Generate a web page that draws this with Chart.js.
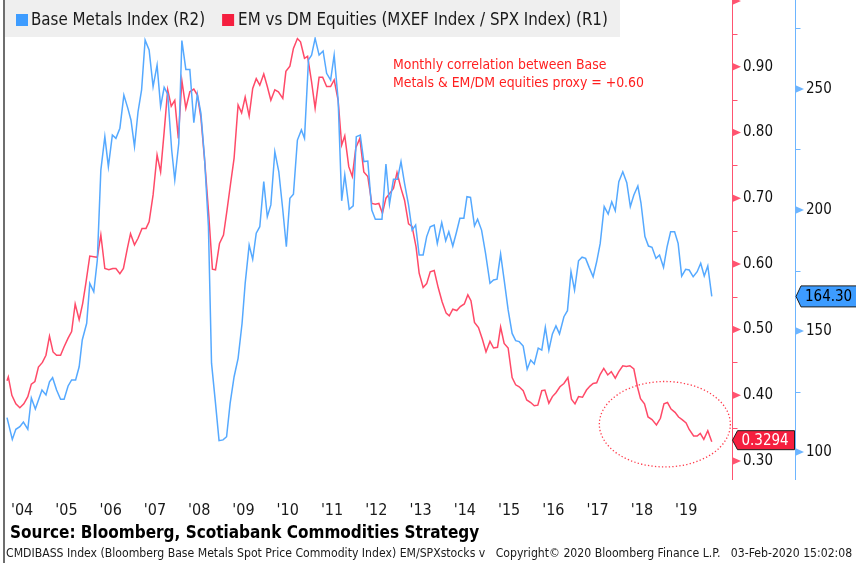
<!DOCTYPE html>
<html><head><meta charset="utf-8">
<script src="https://cdn.jsdelivr.net/npm/chart.js@4.4.1/dist/chart.umd.min.js"></script>
<style>html,body{margin:0;padding:0;background:#fff;overflow:hidden}canvas{display:block}</style>
</head><body>
<canvas id="c" width="856" height="563"></canvas>
<script>
// ---- Data (decimal years / values) ----
const bmT = [2004.00,2004.12,2004.20,2004.29,2004.37,2004.47,2004.55,2004.64,2004.79,2004.88,2004.96,2005.03,2005.12,2005.21,2005.29,2005.38,2005.46,2005.55,2005.63,2005.70,2005.80,2005.87,2005.96,2006.04,2006.12,2006.21,2006.29,2006.38,2006.46,2006.55,2006.64,2006.73,2006.80,2006.88,2006.96,2007.04,2007.12,2007.21,2007.30,2007.39,2007.47,2007.55,2007.63,2007.72,2007.79,2007.88,2007.95,2008.04,2008.13,2008.22,2008.30,2008.38,2008.46,2008.55,2008.62,2008.71,2008.79,2008.88,2008.96,2009.04,2009.13,2009.22,2009.31,2009.38,2009.47,2009.55,2009.63,2009.71,2009.80,2009.88,2009.96,2010.05,2010.14,2010.23,2010.31,2010.39,2010.47,2010.56,2010.65,2010.72,2010.81,2010.88,2010.96,2011.05,2011.14,2011.22,2011.31,2011.39,2011.48,2011.56,2011.63,2011.73,2011.82,2011.89,2011.98,2012.06,2012.15,2012.24,2012.32,2012.47,2012.56,2012.64,2012.73,2012.82,2012.90,2012.98,2013.07,2013.15,2013.23,2013.31,2013.40,2013.48,2013.56,2013.65,2013.72,2013.82,2013.91,2013.98,2014.07,2014.15,2014.23,2014.32,2014.39,2014.47,2014.56,2014.63,2014.72,2014.81,2014.91,2014.99,2015.07,2015.15,2015.23,2015.32,2015.41,2015.49,2015.57,2015.66,2015.75,2015.83,2015.91,2016.00,2016.08,2016.16,2016.24,2016.32,2016.40,2016.48,2016.58,2016.66,2016.74,2016.82,2016.91,2016.99,2017.07,2017.15,2017.24,2017.32,2017.40,2017.49,2017.58,2017.66,2017.74,2017.82,2017.91,2018.00,2018.08,2018.16,2018.25,2018.32,2018.41,2018.49,2018.57,2018.66,2018.74,2018.83,2018.91,2018.99,2019.08,2019.16,2019.24,2019.33,2019.41,2019.50,2019.59,2019.67,2019.75,2019.83,2019.92];
const bmV = [114.2,105.2,109.4,110.5,112.4,109.4,122.3,117.8,125.6,123.6,129.0,130.7,125.6,121.8,121.8,127.3,129.8,129.8,135.2,146.3,153.2,169.7,166.2,179.3,216.5,230.3,217.9,231.0,229.6,233.8,247.5,242.0,237.2,226.2,240.6,249.6,270.2,266.1,251.0,259.9,242.7,250.7,247.9,224.8,212.4,227.6,270.0,258.1,258.1,236.1,247.9,240.0,222.0,193.1,136.7,120.1,104.7,105.0,106.3,120.1,131.1,138.7,153.2,169.7,185.5,179.6,190.4,193.1,211.7,197.2,202.1,224.1,215.8,200.0,184.8,204.8,206.5,228.9,233.1,229.6,262.0,264.0,270.9,264.0,265.7,256.5,253.7,264.0,245.5,203.8,214.5,200.3,201.7,230.3,231.0,220.0,220.2,200.0,196.2,196.2,219.0,202.5,212.7,212.7,220.0,211.0,202.1,191.7,193.8,181.4,181.4,189.0,193.1,193.8,186.2,194.8,187.3,191.0,185.1,190.6,196.6,196.6,205.5,205.2,193.4,196.2,191.7,182.1,169.7,171.1,171.4,181.8,171.1,158.7,149.0,146.0,145.6,143.8,134.2,138.0,136.4,142.9,142.1,151.5,142.1,148.8,152.1,148.8,155.9,158.4,174.5,166.9,179.0,180.5,180.0,176.3,172.4,178.6,186.2,201.4,198.3,203.4,199.7,211.7,215.8,211.3,201.4,206.2,209.9,203.0,189.0,185.1,184.6,180.0,181.4,176.3,184.8,191.0,191.0,186.2,172.7,175.5,175.2,172.4,174.5,178.0,172.7,176.9,164.3];

const emT = [2004.00,2004.03,2004.11,2004.20,2004.29,2004.38,2004.47,2004.55,2004.63,2004.71,2004.80,2004.88,2004.96,2005.04,2005.12,2005.21,2005.29,2005.38,2005.46,2005.54,2005.63,2005.71,2005.78,2005.87,2005.96,2006.04,2006.12,2006.21,2006.30,2006.39,2006.46,2006.55,2006.63,2006.72,2006.79,2006.88,2006.96,2007.05,2007.14,2007.21,2007.30,2007.39,2007.47,2007.55,2007.63,2007.71,2007.79,2007.87,2007.95,2008.04,2008.13,2008.22,2008.30,2008.38,2008.47,2008.56,2008.64,2008.71,2008.80,2008.89,2008.97,2009.05,2009.13,2009.22,2009.30,2009.38,2009.47,2009.55,2009.63,2009.71,2009.80,2009.88,2009.96,2010.05,2010.13,2010.23,2010.30,2010.39,2010.47,2010.56,2010.63,2010.72,2010.79,2010.88,2010.96,2011.05,2011.13,2011.22,2011.31,2011.39,2011.48,2011.56,2011.63,2011.72,2011.80,2011.88,2011.97,2012.06,2012.15,2012.24,2012.32,2012.40,2012.48,2012.56,2012.64,2012.73,2012.81,2012.90,2012.98,2013.07,2013.15,2013.24,2013.31,2013.40,2013.48,2013.56,2013.65,2013.74,2013.83,2013.92,2013.99,2014.07,2014.16,2014.24,2014.33,2014.41,2014.48,2014.56,2014.65,2014.74,2014.82,2014.91,2014.99,2015.08,2015.15,2015.23,2015.32,2015.41,2015.49,2015.57,2015.66,2015.74,2015.83,2015.91,2015.99,2016.08,2016.15,2016.24,2016.32,2016.40,2016.49,2016.58,2016.67,2016.75,2016.83,2016.91,2017.00,2017.09,2017.17,2017.24,2017.32,2017.40,2017.48,2017.57,2017.65,2017.74,2017.82,2017.91,2017.99,2018.07,2018.16,2018.24,2018.31,2018.40,2018.48,2018.57,2018.67,2018.76,2018.84,2018.92,2019.00,2019.09,2019.17,2019.25,2019.34,2019.41,2019.51,2019.59,2019.66,2019.74,2019.83,2019.92];
const emV = [0.422,0.428,0.400,0.387,0.381,0.387,0.398,0.417,0.421,0.443,0.450,0.461,0.490,0.466,0.461,0.461,0.474,0.487,0.497,0.539,0.515,0.540,0.570,0.612,0.611,0.610,0.644,0.593,0.591,0.593,0.593,0.585,0.593,0.624,0.646,0.629,0.639,0.654,0.654,0.664,0.705,0.766,0.740,0.801,0.865,0.840,0.849,0.791,0.879,0.837,0.862,0.866,0.857,0.823,0.753,0.672,0.592,0.591,0.631,0.644,0.682,0.722,0.761,0.842,0.830,0.854,0.825,0.867,0.882,0.872,0.889,0.870,0.849,0.865,0.862,0.852,0.893,0.901,0.928,0.943,0.938,0.913,0.916,0.877,0.837,0.884,0.884,0.870,0.870,0.880,0.849,0.781,0.795,0.748,0.733,0.777,0.791,0.740,0.733,0.692,0.691,0.692,0.677,0.700,0.707,0.715,0.739,0.715,0.697,0.661,0.657,0.626,0.586,0.564,0.570,0.588,0.590,0.564,0.542,0.525,0.521,0.531,0.529,0.535,0.539,0.553,0.544,0.511,0.503,0.485,0.466,0.482,0.472,0.473,0.504,0.479,0.472,0.427,0.416,0.413,0.407,0.393,0.389,0.384,0.385,0.407,0.408,0.388,0.398,0.404,0.413,0.418,0.427,0.394,0.387,0.398,0.397,0.408,0.414,0.418,0.419,0.432,0.441,0.431,0.436,0.426,0.436,0.445,0.444,0.445,0.440,0.413,0.395,0.387,0.367,0.363,0.355,0.365,0.387,0.389,0.379,0.374,0.367,0.363,0.358,0.348,0.338,0.338,0.342,0.333,0.346,0.3294];

const yearTicks = [2004,2005,2006,2007,2008,2009,2010,2011,2012,2013,2014,2015,2016,2017,2018,2019];
const redTicks = [0.3,0.4,0.5,0.6,0.7,0.8,0.9];
const redMinor = [0.35,0.45,0.55,0.65,0.75,0.85,0.95];
const blueTicks = [100,150,200,250];
const blueMinor = [125,175,225,275];
const legendLabels = ['Base Metals Index (R2)', 'EM vs DM Equities (MXEF Index / SPX Index) (R1)'];
const noteLines = ['Monthly correlation between Base', 'Metals & EM/DM equities proxy = +0.60'];
const sourceText = 'Source: Bloomberg, Scotiabank Commodities Strategy';
const footerText = 'CMDIBASS Index (Bloomberg Base Metals Spot Price Commodity Index) EM/SPXstocks v   Copyright\u00A9 2020 Bloomberg Finance L.P.   03-Feb-2020 15:02:08';
const ellipseNote = {cx: 2018.86, cy: 0.356, rx: 1.48, ry: 0.065};

// ---- Styles ----
const FONT = "'DejaVu Sans Condensed', 'Liberation Sans', sans-serif";
const BLUE_LINE = '#55a9ff', RED_LINE = '#ff4a68';
const BLUE_AXIS = '#6db5ff', RED_AXIS = '#ff5470';
const BLUE_BOX = '#3d9cff', RED_BOX = '#f51f3f';

function tag(ctx, x, y, w, h, fill, txtColor, text) {
  ctx.save();
  ctx.beginPath();
  ctx.moveTo(x, y);
  ctx.lineTo(x + 5, y - h / 2);
  ctx.lineTo(x + w, y - h / 2);
  ctx.lineTo(x + w, y + h / 2);
  ctx.lineTo(x + 5, y + h / 2);
  ctx.closePath();
  ctx.fillStyle = fill; ctx.fill();
  ctx.lineWidth = 1; ctx.strokeStyle = '#1e1e1e'; ctx.stroke();
  ctx.fillStyle = txtColor;
  ctx.font = '15px ' + FONT;
  ctx.textBaseline = 'middle'; ctx.textAlign = 'left';
  ctx.fillText(text, x + 9, y + 1);
  ctx.restore();
}

const decor = {
  id: 'decor',
  beforeDraw(chart) {
    const ctx = chart.ctx;
    ctx.save(); ctx.fillStyle = '#fff'; ctx.fillRect(0, 0, chart.width, chart.height); ctx.restore();
  },
  afterDraw(chart) {
    const ctx = chart.ctx, ca = chart.chartArea;
    const xs = chart.scales.x, yr = chart.scales.yR, yb = chart.scales.yB;
    ctx.save();
    // left frame line
    ctx.fillStyle = '#6e6e6e';
    ctx.fillRect(3, 0, 2, chart.height);

    // red axis
    const rx = Math.round(yr.left) + 0.5;
    ctx.strokeStyle = RED_AXIS; ctx.lineWidth = 1;
    ctx.beginPath(); ctx.moveTo(rx, 0); ctx.lineTo(rx, ca.bottom); ctx.stroke();
    ctx.fillStyle = RED_AXIS;
    redTicks.concat([1.0]).forEach(v => {
      const y = yr.getPixelForValue(v);
      ctx.beginPath(); ctx.moveTo(rx - 0.5, y - 4); ctx.lineTo(rx + 8.5, y); ctx.lineTo(rx - 0.5, y + 4); ctx.closePath(); ctx.fill();
    });
    redMinor.forEach(v => {
      const y = Math.round(yr.getPixelForValue(v)) + 0.5;
      ctx.beginPath(); ctx.moveTo(rx, y); ctx.lineTo(rx + 5, y); ctx.stroke();
    });

    // blue axis
    const bx = Math.round(yb.left) + 0.5;
    ctx.strokeStyle = BLUE_AXIS;
    ctx.beginPath(); ctx.moveTo(bx, 0); ctx.lineTo(bx, ca.bottom); ctx.stroke();
    ctx.fillStyle = BLUE_AXIS;
    blueTicks.forEach(v => {
      const y = yb.getPixelForValue(v);
      ctx.beginPath(); ctx.moveTo(bx - 0.5, y - 4); ctx.lineTo(bx + 8.5, y); ctx.lineTo(bx - 0.5, y + 4); ctx.closePath(); ctx.fill();
    });
    blueMinor.forEach(v => {
      const y = Math.round(yb.getPixelForValue(v)) + 0.5;
      ctx.beginPath(); ctx.moveTo(bx, y); ctx.lineTo(bx + 5, y); ctx.stroke();
    });

    // dotted ellipse annotation
    const ecx = xs.getPixelForValue(ellipseNote.cx), ecy = yr.getPixelForValue(ellipseNote.cy);
    const erx = xs.getPixelForValue(ellipseNote.cx + ellipseNote.rx) - ecx;
    const ery = ecy - yr.getPixelForValue(ellipseNote.cy + ellipseNote.ry);
    ctx.strokeStyle = '#ff3d4d'; ctx.lineWidth = 1.3; ctx.setLineDash([1.3, 2.2]);
    ctx.beginPath(); ctx.ellipse(ecx, ecy, erx, ery, 0, 0, Math.PI * 2); ctx.stroke();
    ctx.setLineDash([]);

    // note text
    ctx.fillStyle = '#ff1f1f'; ctx.font = '13.9px ' + FONT;
    ctx.textBaseline = 'middle'; ctx.textAlign = 'left';
    ctx.fillText(noteLines[0], 393, 65);
    ctx.fillText(noteLines[1], 393, 83);

    // last value tags
    const lastR = emV[emV.length - 1], lastB = bmV[bmV.length - 1];
    tag(ctx, rx, yr.getPixelForValue(lastR) - 1.5, 62, 19, RED_BOX, '#ffffff', lastR.toFixed(4));
    tag(ctx, bx + 0.5, yb.getPixelForValue(lastB), 64, 21, BLUE_BOX, '#000000', lastB.toFixed(2));

    // legend
    ctx.fillStyle = '#efefef'; ctx.fillRect(5, 0, 615, 37);
    ctx.font = '16.8px ' + FONT; ctx.textBaseline = 'middle';
    ctx.fillStyle = BLUE_BOX; ctx.fillRect(16, 14, 12, 12);
    ctx.fillStyle = '#1a1a1a'; ctx.fillText(legendLabels[0], 31, 21);
    const x2 = 31 + ctx.measureText(legendLabels[0]).width + 17;
    ctx.fillStyle = RED_BOX; ctx.fillRect(x2, 14, 12, 12);
    ctx.fillStyle = '#1a1a1a'; ctx.fillText(legendLabels[1], x2 + 16, 21);

    // source & footer
    ctx.fillStyle = '#000'; ctx.font = 'bold 17px ' + FONT;
    ctx.fillText(sourceText, 10, 534);
    ctx.font = '12px ' + FONT;
    const fw = ctx.measureText(footerText).width;
    const fsize = Math.min(14, 12 * 847 / fw);
    ctx.font = fsize.toFixed(2) + 'px ' + FONT; ctx.fillStyle = '#1a1a1a';
    ctx.fillText(footerText, 6, 554);
    ctx.restore();
  }
};

const pxPerYear = 44.27;
new Chart(document.getElementById('c').getContext('2d'), {
  type: 'line',
  data: {
    datasets: [
      { label: legendLabels[0], data: bmT.map((t, i) => ({x: t, y: bmV[i]})), yAxisID: 'yB',
        borderColor: BLUE_LINE, borderWidth: 1.5, pointRadius: 0, tension: 0, fill: false },
      { label: legendLabels[1], data: emT.map((t, i) => ({x: t, y: emV[i]})), yAxisID: 'yR',
        borderColor: RED_LINE, borderWidth: 1.5, pointRadius: 0, tension: 0, fill: false }
    ]
  },
  options: {
    responsive: false, animation: false, devicePixelRatio: 1,
    layout: { padding: { left: 6, right: 0, top: 0, bottom: 38 } },
    plugins: { legend: { display: false }, tooltip: { enabled: false } },
    scales: {
      x: {
        type: 'linear', position: 'bottom',
        min: 2004 - 1 / pxPerYear, max: 2004 + 725 / pxPerYear,
        grid: { display: false, drawTicks: false }, border: { display: false },
        afterBuildTicks: s => { s.ticks = yearTicks.map(v => ({value: v})); },
        afterFit: s => { s.height = 45; s.paddingLeft = 0; s.paddingRight = 0; },
        ticks: { autoSkip: false, maxRotation: 0, minRotation: 0, align: 'start', labelOffset: 4, padding: 21,
          color: '#1a1a1a', font: { family: FONT, size: 16 },
          callback: v => "'" + String(v).slice(2) }
      },
      yR: {
        type: 'linear', position: 'right', weight: 0,
        min: 0.3 - 19 / 657, max: 0.3 + 461 / 657,
        grid: { display: false, drawTicks: false }, border: { display: false },
        afterBuildTicks: s => { s.ticks = redTicks.map(v => ({value: v})); },
        afterFit: s => { s.width = 63; s.paddingTop = 0; s.paddingBottom = 0; },
        ticks: { padding: 11, color: '#111', font: { family: FONT, size: 15 }, callback: v => v.toFixed(2) }
      },
      yB: {
        type: 'linear', position: 'right', weight: 1,
        min: 100 - 28 / 2.42, max: 100 + 452 / 2.42,
        grid: { display: false, drawTicks: false }, border: { display: false },
        afterBuildTicks: s => { s.ticks = blueTicks.map(v => ({value: v})); },
        afterFit: s => { s.width = 61; s.paddingTop = 0; s.paddingBottom = 0; },
        ticks: { padding: 11, color: '#111', font: { family: FONT, size: 15 }, callback: v => String(v) }
      }
    }
  },
  plugins: [decor]
});
</script>
</body></html>
